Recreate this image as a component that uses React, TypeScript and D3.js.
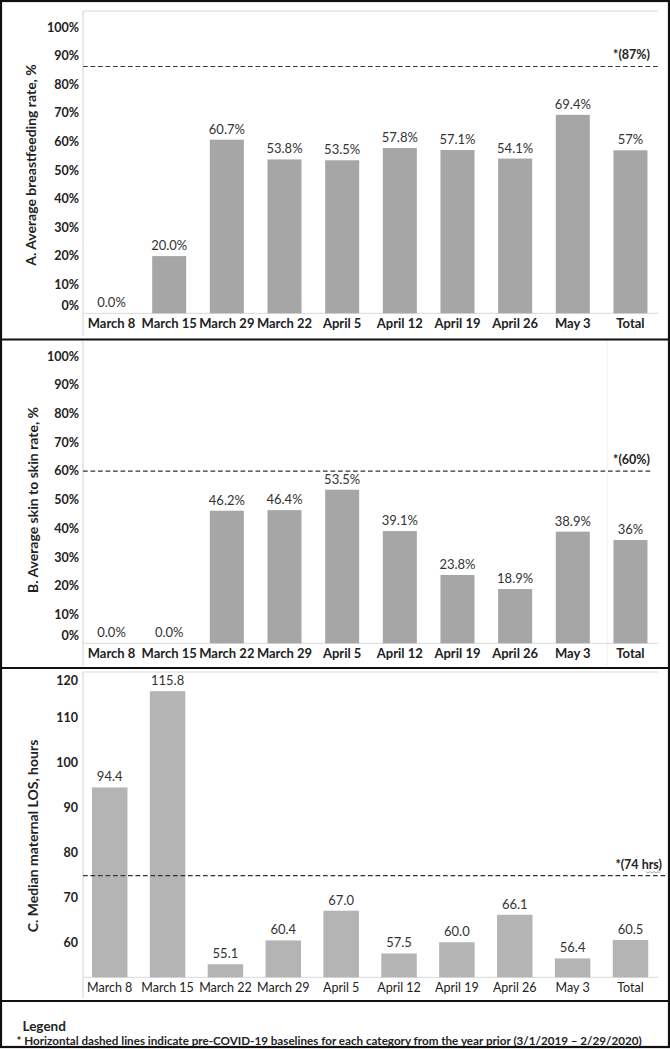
import React from "react";
import * as d3 from "d3";

// ---------- DATA ----------
const categoriesA = ["March 8", "March 15", "March 29", "March 22", "April 5", "April 12", "April 19", "April 26", "May 3", "Total"];
const categoriesBC = ["March 8", "March 15", "March 22", "March 29", "April 5", "April 12", "April 19", "April 26", "May 3", "Total"];
const breastfeedingRate = [0.0, 20.0, 60.7, 53.8, 53.5, 57.8, 57.1, 54.1, 69.4, 57];
const skinToSkinRate = [0.0, 0.0, 46.2, 46.4, 53.5, 39.1, 23.8, 18.9, 38.9, 36];
const losHours = [94.4, 115.8, 55.1, 60.4, 67.0, 57.5, 60.0, 66.1, 56.4, 60.5];
const pctTicks = [0, 10, 20, 30, 40, 50, 60, 70, 80, 90, 100];
const losTicks = [60, 70, 80, 90, 100, 110, 120];
const baselineA = 86.3;
const baselineB = 60;
const baselineC = 74.8;
const baselineLabelA = "*(87%)";
const baselineLabelB = "*(60%)";
const baselineLabelC = "*(74 hrs)";
const titleA = "A. Average breastfeeding rate, %";
const titleB = "B. Average skin to skin rate, %";
const titleC = "C. Median maternal LOS, hours";
const legendTitle = "Legend";
const legendNote = "* Horizontal dashed lines indicate pre-COVID-19 baselines for each category from the year prior (3/1/2019 \u2013 2/29/2020)";

const FONT = "Lato, 'Open Sans', sans-serif";
const W = 670;
const H = 1049;

type PanelProps = {
  cats: string[];
  values: number[];
  ticks: number[];
  domain: [number, number];
  yRange: [number, number];
  xRange: [number, number];
  padInner: number;
  fmt: (v: number, i: number) => string;
  tickFmt: (v: number) => string;
  baseline: number;
  baselineLabel: string;
  dashEnd: number;
  title: string;
  titleX: number;
  titleY: number;
  barColor: string;
  xLabelBold: boolean;
  xLabelDy: number;
  tickRight: number;
  tickInsetTop: number;
  tickInsetBottom: number;
  frameTop: number;
  frameBottom: number;
  topLine: boolean;
  extraV?: number;
  squiggle?: boolean;
};

function Panel(p: PanelProps) {
  const x = d3.scaleBand<string>().domain(p.cats).range(p.xRange).paddingInner(p.padInner).paddingOuter(0.2);
  const y = d3.scaleLinear().domain(p.domain).range(p.yRange);
  const y0 = y(p.domain[0]);
  const yTop = y(p.domain[1]);
  const bl = y(p.baseline);
  return (
    <g>
      {/* frame lines */}
      <line x1={83} x2={83} y1={p.frameTop} y2={p.frameBottom} stroke="#d0d0d0" strokeWidth={1} />
      {p.topLine && <line x1={83} x2={658} y1={p.frameTop} y2={p.frameTop} stroke="#d9d9d9" strokeWidth={1} />}
      {p.extraV !== undefined && (
        <line x1={p.extraV} x2={p.extraV} y1={p.frameTop} y2={p.frameBottom} stroke="#f0f0f0" strokeWidth={1} />
      )}
      <line x1={83} x2={658} y1={y0} y2={y0} stroke="#d9d9d9" strokeWidth={1} />
      {/* bars */}
      {p.values.map((v, i) => (
        <rect
          key={i}
          x={x(p.cats[i])}
          width={x.bandwidth()}
          y={y(Math.max(v, p.domain[0]))}
          height={y0 - y(Math.max(v, p.domain[0]))}
          fill={p.barColor}
        />
      ))}
      {/* value labels */}
      {p.values.map((v, i) => (
        <text
          key={"v" + i}
          x={(x(p.cats[i]) as number) + x.bandwidth() / 2}
          y={y(v) - 6}
          textAnchor="middle"
          fontFamily={FONT}
          fontSize={13}
          fill="#333"
        >
          {p.fmt(v, i)}
        </text>
      ))}
      {/* y ticks */}
      {p.ticks.map((t) => {
        const ty = Math.min(Math.max(y(t), yTop + p.tickInsetTop), y0 - p.tickInsetBottom);
        return (
          <text
            key={"t" + t}
            x={p.tickRight}
            y={ty}
            dy="0.35em"
            textAnchor="end"
            fontFamily={FONT}
            fontWeight="bold"
            fontSize={12.5}
            fill="#222"
          >
            {p.tickFmt(t)}
          </text>
        );
      })}
      {/* x labels */}
      {p.cats.map((c) => (
        <text
          key={"x" + c}
          x={(x(c) as number) + x.bandwidth() / 2}
          y={y0 + p.xLabelDy}
          textAnchor="middle"
          fontFamily={FONT}
          fontWeight={p.xLabelBold ? "bold" : "normal"}
          fontSize={p.xLabelBold ? 13 : 12.5}
          fill="#222"
        >
          {c}
        </text>
      ))}
      {/* baseline */}
      <line x1={83} x2={p.dashEnd} y1={bl} y2={bl} stroke="#333" strokeWidth={1.2} strokeDasharray="4.7,2.8" />
      <text
        x={p.squiggle ? 662 : 650}
        y={bl - 7}
        textAnchor="end"
        fontFamily={FONT}
        fontWeight="bold"
        fontSize={12.5}
        fill="#222"
      >
        {p.baselineLabel}
      </text>
      {p.squiggle && (
        <path
          d={d3.range(0, 8).map((k) => `${k === 0 ? "M" : "L"}${646 + k * 2},${bl - 4 + (k % 2 === 0 ? 0 : 1.2)}`).join(" ")}
          stroke="#8a9bb0"
          strokeWidth={0.8}
          fill="none"
        />
      )}
      {/* y title */}
      <text
        transform={`translate(${p.titleX},${p.titleY}) rotate(-90)`}
        textAnchor="middle"
        dy="0.35em"
        fontFamily={FONT}
        fontWeight="bold"
        fontSize={14}
        fill="#222"
      >
        {p.title}
      </text>
    </g>
  );
}

export default function App() {
  const pctFmt = (v: number, i: number) => (i === 9 ? `${v}%` : `${v.toFixed(1)}%`);
  return (
    <svg width={W} height={H} style={{ position: "absolute", left: 0, top: 0, background: "#fff" }}>
      <rect x={0} y={0} width={W} height={H} fill="#fff" />
      <Panel
        cats={categoriesA}
        values={breastfeedingRate}
        ticks={pctTicks}
        domain={[0, 100]}
        yRange={[313.3, 27.3]}
        xRange={[83, 659]}
        padInner={0.41}
        fmt={pctFmt}
        tickFmt={(t) => `${t}%`}
        baseline={baselineA}
        baselineLabel={baselineLabelA}
        dashEnd={658}
        title={titleA}
        titleX={31}
        titleY={165}
        barColor="#a6a6a6"
        xLabelBold={true}
        xLabelDy={14.5}
        tickRight={79}
        tickInsetTop={0}
        tickInsetBottom={8}
        frameTop={11}
        frameBottom={336}
        topLine={true}
      />
      <Panel
        cats={categoriesBC}
        values={skinToSkinRate}
        ticks={pctTicks}
        domain={[0, 100]}
        yRange={[643.3, 356.3]}
        xRange={[83, 659]}
        padInner={0.41}
        fmt={pctFmt}
        tickFmt={(t) => `${t}%`}
        baseline={baselineB}
        baselineLabel={baselineLabelB}
        dashEnd={653}
        title={titleB}
        titleX={33}
        titleY={500}
        barColor="#a6a6a6"
        xLabelBold={true}
        xLabelDy={14.5}
        tickRight={79}
        tickInsetTop={0}
        tickInsetBottom={8}
        frameTop={341}
        frameBottom={666}
        topLine={false}
        extraV={607}
      />
      <Panel
        cats={categoriesBC}
        values={losHours}
        ticks={losTicks}
        domain={[52.2, 120]}
        yRange={[977.3, 672.3]}
        xRange={[80.4, 659.8]}
        padInner={0.387}
        fmt={(v) => v.toFixed(1)}
        tickFmt={(t) => `${t}`}
        baseline={baselineC}
        baselineLabel={baselineLabelC}
        dashEnd={668}
        title={titleC}
        titleX={33}
        titleY={836}
        barColor="#b4b4b4"
        xLabelBold={false}
        xLabelDy={15}
        tickRight={78}
        tickInsetTop={8}
        tickInsetBottom={0}
        frameTop={672}
        frameBottom={998}
        topLine={true}
        squiggle={true}
      />
      {/* separators */}
      <line x1={0} x2={W} y1={339.5} y2={339.5} stroke="#111" strokeWidth={2.2} />
      <line x1={0} x2={W} y1={668} y2={668} stroke="#111" strokeWidth={2.2} />
      <line x1={0} x2={W} y1={1001} y2={1001} stroke="#111" strokeWidth={2.2} />
      {/* legend */}
      <text x={22.5} y={1030.5} fontFamily={FONT} fontSize={13.5} fontWeight="bold" fill="#222">
        {legendTitle}
      </text>
      <text x={16.5} y={1044.5} fontFamily={FONT} fontSize={11.65} fontWeight="bold" fill="#222">
        {legendNote}
      </text>
      {/* outer border */}
      <rect x={1} y={1} width={W - 2} height={H - 3} fill="none" stroke="#111" strokeWidth={2.2} />
    </svg>
  );
}
